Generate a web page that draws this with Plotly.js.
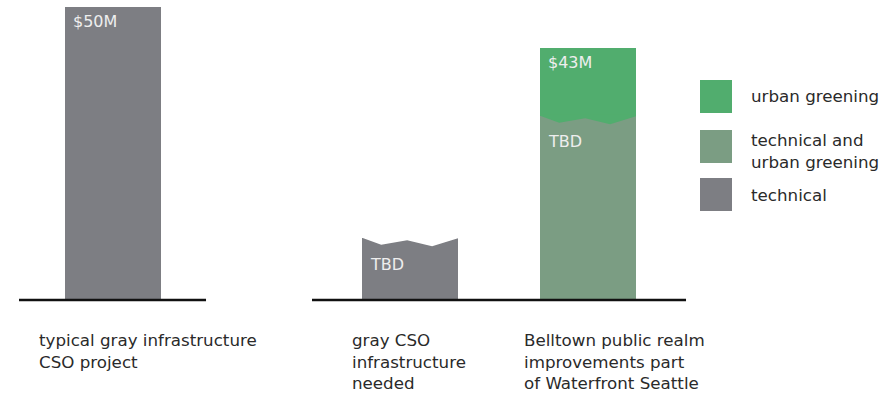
<!DOCTYPE html>
<html>
<head>
<meta charset="utf-8">
<script src="https://cdn.plot.ly/plotly-3.0.1.min.js"></script>
<style>
  html, body { margin: 0; padding: 0; background: #ffffff; }
  #chart { width: 896px; height: 397px; }
</style>
</head>
<body>
<div id="chart"></div>
<script>
// ---- data ----
const categories = [
  ['typical gray infrastructure', 'CSO project'],
  ['gray CSO', 'infrastructure', 'needed'],
  ['Belltown public realm', 'improvements part', 'of Waterfront Seattle']
];
const seriesNames = ['urban greening', 'technical and\nurban greening', 'technical'];
// cost in $M (TBD amounts are drawn at an illustrative height)
const technical = [50, 10.6, null];
const technicalAndGreening = [null, null, 31.4];
const urbanGreening = [null, null, 11.6];
const barLabels = [
  ['$50M'],
  ['TBD'],
  ['$43M', 'TBD']
];

// ---- layout constants ----
const W = 896, H = 397;
const slotX = [1.172, 4.271, 6.125];          // bar centres (x units = one bar width)
const labelX = [0.385, 3.65, 5.44];            // left edge of category captions
const baselines = [[0.198, 2.146], [3.25, 7.146]];
const yRange = [-16.53, 51.13];
const pxPerUnit = H / (yRange[1] - yRange[0]);

const colors = {
  technical: '#7d7e83',
  mixed: '#7b9d83',
  greening: '#51ad6e',
  text: '#2a2a2a'
};

// ragged "torn" edge profile: fraction across the bar, depth in px
const waveFrac = [0, 0.2, 0.47, 0.73, 1];
const waveDepthPx = [0, 7, 2.5, 8.5, 0.5];

function tornEdge(xc, level, fill) {
  const left = xc - 0.5, right = xc + 0.5;
  const lift = 1.5 / pxPerUnit;
  const xs = [left, right], ys = [level + lift, level + lift];
  for (let i = waveFrac.length - 1; i >= 0; i--) {
    xs.push(left + waveFrac[i]);
    ys.push(level - waveDepthPx[i] / pxPerUnit);
  }
  xs.push(left); ys.push(level + lift);
  return {
    type: 'scatter', mode: 'lines', x: xs, y: ys,
    fill: 'toself', fillcolor: fill, line: { width: 0, color: fill },
    hoverinfo: 'skip', showlegend: false
  };
}

function column(values) {
  const xs = [], ys = [];
  values.forEach((v, i) => { if (v !== null) { xs.push(slotX[i]); ys.push(v); } });
  return { xs, ys };
}

const tech = column(technical);
const mixed = column(technicalAndGreening);
const green = column(urbanGreening);

const traces = [
  { type: 'bar', name: seriesNames[2], x: tech.xs, y: tech.ys, width: 1,
    marker: { color: colors.technical, line: { width: 0 } }, hoverinfo: 'skip' },
  { type: 'bar', name: seriesNames[1], x: mixed.xs, y: mixed.ys, width: 1,
    marker: { color: colors.mixed, line: { width: 0 } }, hoverinfo: 'skip' },
  { type: 'bar', name: seriesNames[0], x: green.xs, y: green.ys, width: 1,
    marker: { color: colors.greening, line: { width: 0 } }, hoverinfo: 'skip' },
  // ragged top of the TBD gray column
  tornEdge(slotX[1], technical[1], '#ffffff'),
  // ragged seam between the two green segments
  tornEdge(slotX[2], technicalAndGreening[2], colors.greening)
];

const annotations = [];
const shapes = [];

// values written inside the columns
const textFont = { family: 'DejaVu Sans, Verdana, sans-serif', size: 16, color: '#eeeeee' };
annotations.push({ x: slotX[0] - 0.5, y: technical[0], xref: 'x', yref: 'y',
  text: barLabels[0][0], showarrow: false, xanchor: 'left', yanchor: 'top',
  xshift: 6, yshift: -3, font: textFont });
annotations.push({ x: slotX[1] - 0.5, y: technical[1], xref: 'x', yref: 'y',
  text: barLabels[1][0], showarrow: false, xanchor: 'left', yanchor: 'top',
  xshift: 6, yshift: -15, font: textFont });
annotations.push({ x: slotX[2] - 0.5, y: technicalAndGreening[2] + urbanGreening[2], xref: 'x', yref: 'y',
  text: barLabels[2][0], showarrow: false, xanchor: 'left', yanchor: 'top',
  xshift: 6, yshift: -3, font: textFont });
annotations.push({ x: slotX[2] - 0.5, y: technicalAndGreening[2], xref: 'x', yref: 'y',
  text: barLabels[2][1], showarrow: false, xanchor: 'left', yanchor: 'top',
  xshift: 6, yshift: -14, font: textFont });

// category captions under the baselines
categories.forEach((lines, i) => {
  annotations.push({ x: labelX[i], y: 0, xref: 'x', yref: 'y',
    text: lines.join('<br>'), showarrow: false, align: 'left',
    xanchor: 'left', yanchor: 'top', yshift: -28,
    font: { family: 'DejaVu Sans, Verdana, sans-serif', size: 16.7, color: colors.text } });
});

// baselines
baselines.forEach(b => {
  shapes.push({ type: 'line', xref: 'x', yref: 'y', x0: b[0], x1: b[1], y0: 0, y1: 0,
    line: { color: '#111111', width: 2.5 } });
});

// legend: swatch + caption
const legendItems = [
  { name: seriesNames[0], color: colors.greening, top: 80 },
  { name: seriesNames[1], color: colors.mixed, top: 130 },
  { name: seriesNames[2], color: colors.technical, top: 178 }
];
legendItems.forEach(it => {
  shapes.push({ type: 'rect', xref: 'paper', yref: 'paper',
    x0: 700 / W, x1: 732 / W, y0: 1 - (it.top + 33) / H, y1: 1 - it.top / H,
    fillcolor: it.color, line: { width: 0 } });
  annotations.push({ x: 749 / W, y: 1 - (it.top + 16.5) / H, xref: 'paper', yref: 'paper',
    text: it.name.replace('\n', '<br>'), showarrow: false, align: 'left',
    xanchor: 'left', yanchor: 'middle',
    yshift: it.name.indexOf('\n') >= 0 ? -4 : 0,
    font: { family: 'DejaVu Sans, Verdana, sans-serif', size: 16.7, color: colors.text } });
});

const layout = {
  width: W, height: H,
  margin: { l: 0, r: 0, t: 0, b: 0, pad: 0 },
  paper_bgcolor: '#ffffff', plot_bgcolor: '#ffffff',
  barmode: 'stack',
  showlegend: false,
  xaxis: { range: [0, W / 96], visible: false, fixedrange: true },
  yaxis: { range: yRange, visible: false, fixedrange: true },
  annotations: annotations,
  shapes: shapes
};

Plotly.newPlot('chart', traces, layout, { staticPlot: true, displayModeBar: false });
</script>
</body>
</html>
